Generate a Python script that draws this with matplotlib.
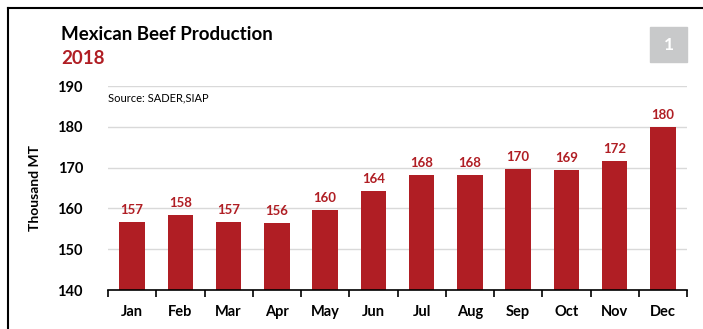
import matplotlib
matplotlib.use("Agg")
import matplotlib.pyplot as plt
from matplotlib.patches import Rectangle
from matplotlib.lines import Line2D

months = ["Jan", "Feb", "Mar", "Apr", "May", "Jun",
          "Jul", "Aug", "Sep", "Oct", "Nov", "Dec"]
production = [156.7, 158.4, 156.7, 156.4, 159.7, 164.2,
              168.1, 168.2, 169.6, 169.3, 171.7, 179.9]
y_ticks = [140, 150, 160, 170, 180, 190]

RED = "#B01E24"
plt.rcParams["font.family"] = ["Lato", "DejaVu Sans"]

W, H = 703, 329
fig = plt.figure(figsize=(W / 100, H / 100), dpi=100)

def fx(px):
    return px / W

def fy(py):
    return 1 - py / H

ax = fig.add_axes([fx(108), fy(290), fx(687) - fx(108), fy(86) - fy(290)])
x = range(len(months))
ax.bar(x, production, width=0.53, color=RED, zorder=3)
for xi, v in zip(x, production):
    ax.text(xi, v + 1.5, f"{v:.0f}", ha="center", va="bottom",
            color=RED, fontsize=9.5, fontweight="bold")

ax.set_xlim(-0.5, len(months) - 0.5)
ax.set_ylim(140, 190)
ax.set_yticks(y_ticks)
ax.set_yticklabels([str(t) for t in y_ticks], fontsize=10.5, fontweight="bold")
ax.set_xticks(list(x))
ax.set_xticklabels(months, fontsize=10.5, fontweight="bold")
ax.tick_params(axis="x", length=0, pad=11)
ax.tick_params(axis="y", length=0, pad=18)
# category boundary ticks on the x axis
ax.set_xticks([i - 0.5 for i in range(len(months) + 1)], minor=True)
ax.tick_params(axis="x", which="minor", length=5, width=1.2, color="black", direction="out")
ax.grid(axis="y", color="#D9D9D9", linewidth=1, zorder=0)
for side in ["top", "right", "left"]:
    ax.spines[side].set_visible(False)
ax.spines["bottom"].set_linewidth(1.2)
ax.spines["bottom"].set_zorder(4)
ax.set_ylabel("Thousand MT", fontsize=10, fontweight="bold", labelpad=12)

fig.text(fx(61), fy(35), "Mexican Beef Production", fontsize=13.5,
         fontweight="bold", color="black", va="center")
fig.text(fx(61), fy(59), "2018", fontsize=13.5, fontweight="bold",
         color=RED, va="center")
fig.text(fx(108), fy(98), "Source: SADER,SIAP", fontsize=8,
         color="black", va="center")

fig.patches.append(Rectangle((fx(650), fy(62)), fx(687) - fx(650), fy(27) - fy(62),
                             transform=fig.transFigure, color="#C8C9CA"))
fig.text(fx(668.5), fy(45), "1", fontsize=12.5, fontweight="bold",
         color="white", ha="center", va="center")

# outer frame: top and left edges
fig.add_artist(Line2D([fx(8), 1], [fy(8), fy(8)], color="black", linewidth=1.5))
fig.add_artist(Line2D([fx(8), fx(8)], [fy(8), 0], color="black", linewidth=1.5))

fig.savefig("out.png", dpi=100, facecolor="white")
